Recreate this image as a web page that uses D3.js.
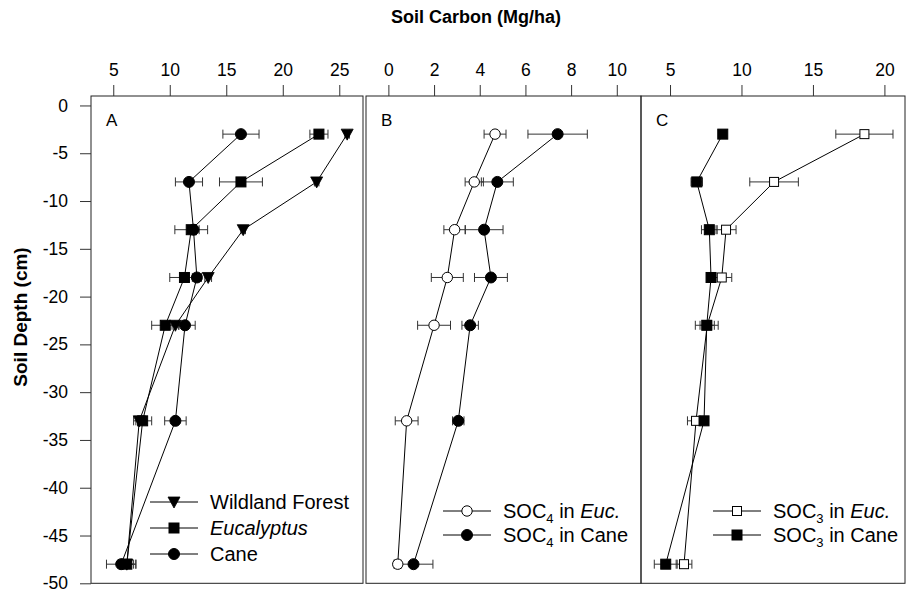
<!DOCTYPE html>
<html>
<head>
<meta charset="utf-8">
<script src="https://cdn.jsdelivr.net/npm/d3@7"></script>
<style>
  body { margin: 0; background: #fff; }
  svg { display: block; font-family: "Liberation Sans", Arial, sans-serif; }
</style>
</head>
<body>
<svg id="chart" width="907" height="592"></svg>
<script>
// depth of each sampled layer (cm)
var depths = [-3, -8, -13, -18, -23, -33, -48];

// panel A: total soil carbon (Mg/ha)
var forestC   = [25.7, 23.0, 16.5, 13.4, 10.5, 7.3, 6.2];
var forestErr = [0.2, 0.2, 0.2, 0.3, 0.3, 0.3, 0.6];
var eucC      = [23.2, 16.3, 11.9, 11.3, 9.6, 7.6, 6.2];
var eucErr    = [0.8, 1.9, 1.45, 1.3, 1.2, 0.8, 0.8];
var caneC     = [16.3, 11.7, 12.1, 12.4, 11.35, 10.5, 5.7];
var caneErr   = [1.6, 1.2, 0.5, 0.4, 0.9, 0.95, 1.3];

// panel B: C4-derived carbon
var soc4Euc      = [4.67, 3.76, 2.9, 2.58, 2.0, 0.8, 0.41];
var soc4EucErr   = [0.48, 0.4, 0.47, 0.7, 0.72, 0.5, 0.15];
var soc4Cane     = [7.41, 4.77, 4.19, 4.49, 3.58, 3.06, 1.1];
var soc4CaneErr  = [1.3, 0.7, 0.83, 0.72, 0.36, 0.25, 0.85];

// panel C: C3-derived carbon
var soc3Euc      = [18.6, 12.28, 8.92, 8.62, 7.6, 6.82, 5.98];
var soc3EucErr   = [2.0, 1.7, 0.7, 0.7, 0.5, 0.6, 0.55];
var soc3Cane     = [8.69, 6.87, 7.75, 7.87, 7.57, 7.38, 4.7];
var soc3CaneErr  = [0.15, 0.4, 0.55, 0.25, 0.8, 0.2, 0.8];

var depthTicks = d3.range(0, -51, -5);
var ticksA = [5, 10, 15, 20, 25];
var ticksB = [0, 2, 4, 6, 8, 10];
var ticksC = [5, 10, 15, 20];

var svg = d3.select("#chart");

var plotTop = 96, plotBottom = 583.3;
var y = d3.scaleLinear().domain([0.99, -50]).range([plotTop, plotBottom]);

// plain hyphen for negatives, like the original figure
function plainFormat(d) { return String(d); }

var panels = [
    { letter: "A", left: 91, right: 363, domain: [3.03, 27.1], ticks: ticksA,
      series: [
        { name: "Wildland Forest", values: forestC, err: forestErr, shape: "triangle", fill: "black" },
        { name: "Eucalyptus", italic: true, values: eucC, err: eucErr, shape: "square", fill: "black" },
        { name: "Cane", values: caneC, err: caneErr, shape: "circle", fill: "black" }
      ],
      legend: { x0: 150, x1: 198, mx: 174, tx: 210, ys: [502, 528, 554] } },
    { letter: "B", left: 366, right: 641, domain: [-0.98, 11.06], ticks: ticksB,
      series: [
        { sub: "4", euc: true, values: soc4Euc, err: soc4EucErr, shape: "circle", fill: "white" },
        { sub: "4", values: soc4Cane, err: soc4CaneErr, shape: "circle", fill: "black" }
      ],
      legend: { x0: 443, x1: 491, mx: 467, tx: 503, ys: [511, 535] } },
    { letter: "C", left: 641, right: 905, domain: [2.97, 21.44], ticks: ticksC,
      series: [
        { sub: "3", euc: true, values: soc3Euc, err: soc3EucErr, shape: "square", fill: "white" },
        { sub: "3", values: soc3Cane, err: soc3CaneErr, shape: "square", fill: "black" }
      ],
      legend: { x0: 713, x1: 761, mx: 737, tx: 773, ys: [511, 535] } }
];

function drawMarker(g, shape, fill, cx, cy) {
    if (shape == "circle") {
        g.append("circle")
            .attr("cx", cx).attr("cy", cy)
            .attr("r", fill == "black" ? 5.5 : 5.2)
            .attr("fill", fill)
            .attr("stroke", "black")
            .attr("stroke-width", 1);
    } else if (shape == "square") {
        var s = fill == "black" ? 10 : 9;
        g.append("rect")
            .attr("x", cx - s / 2).attr("y", cy - s / 2)
            .attr("width", s).attr("height", s)
            .attr("fill", fill)
            .attr("stroke", "black")
            .attr("stroke-width", 1);
    } else {
        g.append("path")
            .attr("d", "M" + (cx - 6) + " " + (cy - 5) + "L" + (cx + 6) + " " + (cy - 5) + "L" + cx + " " + (cy + 6) + "Z")
            .attr("fill", fill)
            .attr("stroke", "black")
            .attr("stroke-width", 0.8);
    }
}

panels.forEach(function(p) {
    var x = d3.scaleLinear().domain(p.domain).range([p.left, p.right]);
    var g = svg.append("g").attr("class", "panel");

    // frame
    g.append("rect")
        .attr("x", p.left).attr("y", plotTop)
        .attr("width", p.right - p.left).attr("height", plotBottom - plotTop)
        .attr("fill", "none")
        .attr("stroke", "#222")
        .attr("stroke-width", 1);

    // top axis
    var axis = d3.axisTop(x).tickValues(p.ticks).tickFormat(plainFormat).tickSize(11).tickPadding(9);
    var ax = g.append("g")
        .attr("transform", "translate(0," + plotTop + ")")
        .call(axis);
    ax.select(".domain").remove();
    ax.selectAll("line").attr("stroke", "#333");
    ax.selectAll("text")
        .attr("font-size", 17.5)
        .attr("font-family", "Liberation Sans, Arial, sans-serif")
        .attr("fill", "black");

    g.append("text")
        .attr("x", p.left + 15).attr("y", 126)
        .attr("font-size", 17)
        .text(p.letter);

    var line = d3.line()
        .x(function(d) { return x(d[0]); })
        .y(function(d) { return y(d[1]); });

    p.series.forEach(function(s) {
        var pts = s.values.map(function(v, i) { return [v, depths[i], s.err[i]]; });

        // error bars
        var eb = g.append("g").attr("class", "errorbars");
        pts.forEach(function(d) {
            var cy = y(d[1]), xl = x(d[0] - d[2]), xr = x(d[0] + d[2]);
            eb.append("line").attr("x1", xl).attr("x2", xr).attr("y1", cy).attr("y2", cy);
            eb.append("line").attr("x1", xl).attr("x2", xl).attr("y1", cy - 4.5).attr("y2", cy + 4.5);
            eb.append("line").attr("x1", xr).attr("x2", xr).attr("y1", cy - 4.5).attr("y2", cy + 4.5);
        });
        eb.selectAll("line").attr("stroke", "#333").attr("stroke-width", 1);

        g.append("path")
            .attr("d", line(pts))
            .attr("fill", "none")
            .attr("stroke", "black")
            .attr("stroke-width", 1);
    });

    // markers on top of every line
    p.series.forEach(function(s) {
        var mg = g.append("g").attr("class", "markers");
        s.values.forEach(function(v, i) {
            drawMarker(mg, s.shape, s.fill, x(v), y(depths[i]));
        });
    });

    // legend
    p.series.forEach(function(s, i) {
        var ly = p.legend.ys[i];
        var lg = g.append("g").attr("class", "legend");
        lg.append("line")
            .attr("x1", p.legend.x0).attr("x2", p.legend.x1)
            .attr("y1", ly).attr("y2", ly)
            .attr("stroke", "black").attr("stroke-width", 1);
        drawMarker(lg, s.shape, s.fill, p.legend.mx, ly);
        var t = lg.append("text")
            .attr("x", p.legend.tx).attr("y", ly + 7)
            .attr("font-size", 20);
        if (s.sub) {
            t.append("tspan").text("SOC");
            t.append("tspan").attr("font-size", 13).attr("dy", 5).text(s.sub);
            t.append("tspan").attr("dy", -5).text(" in ");
            if (s.euc) t.append("tspan").attr("font-style", "italic").text("Euc.");
            else t.append("tspan").text("Cane");
        } else {
            t.attr("font-style", s.italic ? "italic" : null).text(s.name);
        }
    });
});

// depth axis on the left
var yAxis = d3.axisLeft(y).tickValues(depthTicks).tickFormat(plainFormat).tickSize(11).tickPadding(12);
var yg = svg.append("g")
    .attr("transform", "translate(91,0)")
    .call(yAxis);
yg.select(".domain").remove();
yg.selectAll("line").attr("stroke", "#333");
yg.selectAll("text")
    .attr("font-size", 17.5)
    .attr("font-family", "Liberation Sans, Arial, sans-serif")
    .attr("fill", "black");

// axis titles
svg.append("text")
    .attr("x", 476).attr("y", 23)
    .attr("text-anchor", "middle")
    .attr("font-size", 18)
    .attr("font-weight", "bold")
    .text("Soil Carbon (Mg/ha)");

svg.append("text")
    .attr("transform", "translate(27,317) rotate(-90)")
    .attr("text-anchor", "middle")
    .attr("font-size", 19)
    .attr("font-weight", "bold")
    .text("Soil Depth (cm)");
</script>
</body>
</html>
